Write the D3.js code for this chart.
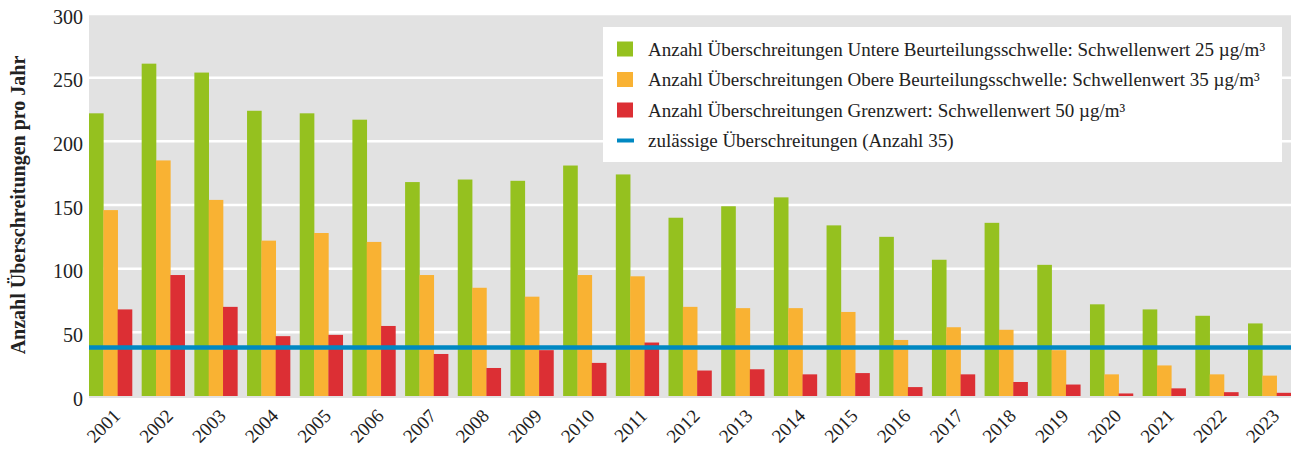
<!DOCTYPE html>
<html>
<head>
<meta charset="utf-8">
<script src="https://cdn.jsdelivr.net/npm/d3@7"></script>
<style>
  html, body { margin: 0; padding: 0; background: #fff; }
  svg { display: block; font-family: "Liberation Serif", "DejaVu Serif", serif; }
</style>
</head>
<body>
<div id="chart"></div>
<script>
// Data
const years = ["2001", "2002", "2003", "2004", "2005", "2006", "2007", "2008", "2009", "2010", "2011", "2012",
  "2013", "2014", "2015", "2016", "2017", "2018", "2019", "2020", "2021", "2022", "2023"]
const untere = [222, 261, 254, 224, 222, 217, 168, 170, 169, 181, 174, 140, 149, 156, 134, 125, 107, 136, 103, 72, 68, 63, 57]
const obere = [146, 185, 154, 122, 128, 121, 95, 85, 78, 95, 94, 70, 69, 69, 66, 44, 54, 52, 36, 17, 24, 17, 16]
const grenz = [68, 95, 70, 47, 48, 55, 33, 22, 36, 26, 42, 20, 21, 17, 18, 7, 17, 11, 9, 2, 6, 3, 2.5]
const limitValue = [38]
const yTicks = [0, 50, 100, 150, 200, 250, 300]
const seriesLabels = [
  "Anzahl Überschreitungen Untere Beurteilungsschwelle: Schwellenwert 25 µg/m³",
  "Anzahl Überschreitungen Obere Beurteilungsschwelle: Schwellenwert 35 µg/m³",
  "Anzahl Überschreitungen Grenzwert: Schwellenwert 50 µg/m³"
]
const limitLabel = "zulässige Überschreitungen (Anzahl 35)"
const yTitle = "Anzahl Überschreitungen pro Jahr"

const COLORS = ["#95c11f", "#f9b233", "#dc2f34"]
const LIMIT_COLOR = "#0088c2"

const width = 1291, height = 452
const plot = { left: 89, right: 1291, top: 14, bottom: 396 }

const svg = d3.select("#chart").append("svg")
  .attr("width", width)
  .attr("height", height)

const x0 = d3.scaleBand()
  .domain(years)
  .range([plot.left, plot.right])
  .paddingInner(0.184)
  .paddingOuter(0)

const x1 = d3.scaleBand()
  .domain([0, 1, 2])
  .range([0, x0.bandwidth()])
  .padding(0)

const y = d3.scaleLinear()
  .domain([0, 300])
  .range([plot.bottom, plot.top])

// Grey plot background
svg.append("rect")
  .attr("x", plot.left)
  .attr("y", plot.top)
  .attr("width", plot.right - plot.left)
  .attr("height", plot.bottom - plot.top + 2)
  .attr("fill", "#e2e2e2")

// White gridlines
svg.append("g")
  .selectAll("line")
  .data(yTicks.filter(d => d > 0))
  .enter().append("line")
  .attr("x1", plot.left)
  .attr("x2", plot.right)
  .attr("y1", d => y(d))
  .attr("y2", d => y(d))
  .attr("stroke", "#fff")
  .attr("stroke-width", 2.5)

// Bars
const rows = years.map((yr, i) => ({ year: yr, values: [untere[i], obere[i], grenz[i]] }))

const group = svg.append("g")
  .selectAll("g")
  .data(rows)
  .enter().append("g")
  .attr("transform", d => `translate(${x0(d.year)},0)`)

group.selectAll("rect")
  .data(d => d.values.map((v, k) => ({ k, v })))
  .enter().append("rect")
  .attr("x", d => x1(d.k))
  .attr("width", x1.bandwidth() + 0.3)
  .attr("y", d => y(d.v))
  .attr("height", d => y(0) - y(d.v))
  .attr("fill", d => COLORS[d.k])

// Limit line
svg.append("g")
  .selectAll("line")
  .data(limitValue)
  .enter().append("line")
  .attr("x1", plot.left)
  .attr("x2", plot.right)
  .attr("y1", d => y(d))
  .attr("y2", d => y(d))
  .attr("stroke", LIMIT_COLOR)
  .attr("stroke-width", 4.5)

// Y axis
const yAxis = svg.append("g")
  .attr("transform", `translate(${plot.left},0)`)
  .call(d3.axisLeft(y).tickValues(yTicks).tickSize(0).tickPadding(6))
yAxis.select(".domain").remove()
yAxis.selectAll("text")
  .attr("font-family", "Liberation Serif, serif")
  .attr("font-size", 20)
  .attr("fill", "#222")
  .attr("dy", "0.45em")

// X axis labels
svg.append("g")
  .selectAll("text")
  .data(years)
  .enter().append("text")
  .attr("transform", d => `translate(${x0(d) + x0.bandwidth() / 2 + 11},${plot.bottom + 21}) rotate(-45)`)
  .attr("text-anchor", "end")
  .attr("font-size", 19)
  .attr("fill", "#222")
  .text(d => d)

// Y axis title
svg.append("text")
  .attr("transform", `translate(25,${(plot.top + plot.bottom) / 2}) rotate(-90)`)
  .attr("text-anchor", "middle")
  .attr("font-size", 20)
  .attr("font-weight", "bold")
  .attr("fill", "#222")
  .text(yTitle)

// Legend
const legend = svg.append("g").attr("transform", "translate(603,27)")
legend.append("rect")
  .attr("width", 679)
  .attr("height", 135)
  .attr("fill", "#fff")

const items = legend.selectAll("g.item")
  .data(seriesLabels.concat([limitLabel]))
  .enter().append("g")
  .attr("class", "item")
  .attr("transform", (d, i) => `translate(14,${22 + i * 30.5})`)

items.filter((d, i) => i < 3)
  .append("rect")
  .attr("x", 0)
  .attr("y", -7.5)
  .attr("width", 16)
  .attr("height", 15)
  .attr("fill", (d, i) => COLORS[i])

items.filter((d, i) => i === 3)
  .append("line")
  .attr("x1", 0)
  .attr("x2", 17)
  .attr("stroke", LIMIT_COLOR)
  .attr("stroke-width", 4)

items.append("text")
  .attr("x", 31)
  .attr("dy", "0.35em")
  .attr("font-size", 19)
  .attr("fill", "#222")
  .text(d => d)
</script>
</body>
</html>
